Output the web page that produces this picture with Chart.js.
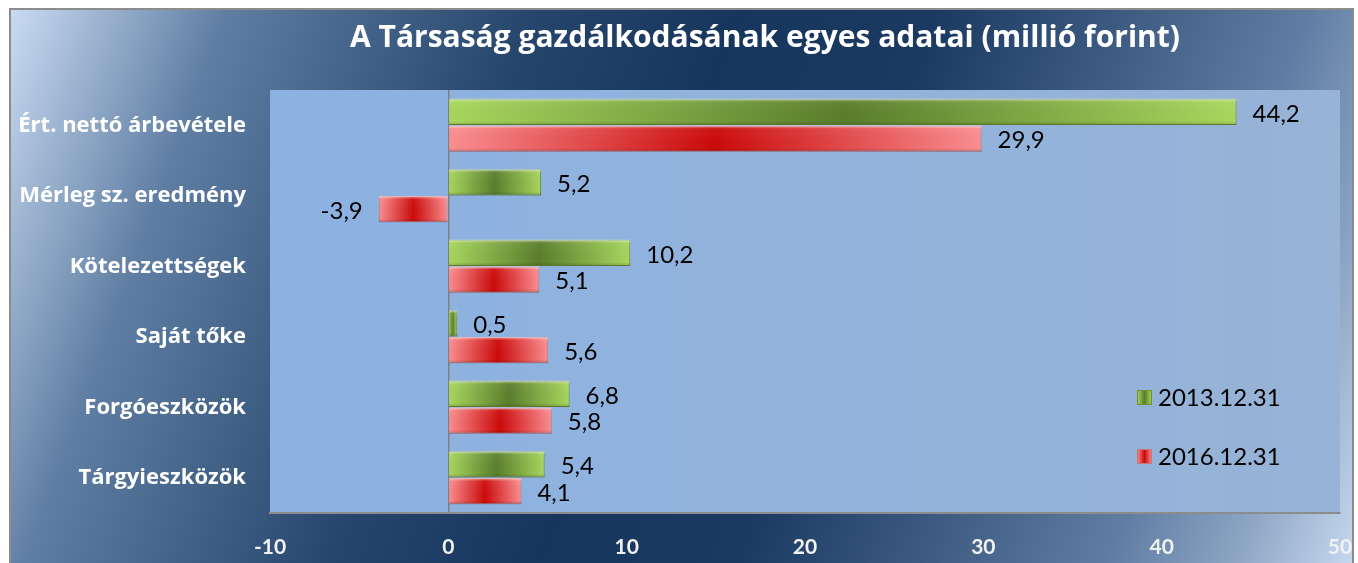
<!DOCTYPE html>
<html>
<head>
<meta charset="utf-8">
<script src="https://cdn.jsdelivr.net/npm/chart.js@4.4.1/dist/chart.umd.min.js"></script>
<style>
  html, body { margin: 0; padding: 0; background: #fff; overflow: hidden; }
  #frame {
    position: absolute; left: 9px; top: 8px; width: 1345px; height: 560px;
    border: 2px solid #8c8c8c; box-sizing: border-box;
    background: linear-gradient(110deg, #c9dbf2 0%, #5f7ea3 14%, #25456c 34%, #17365d 47%, #1b3a61 60%, #5f7ca2 84%, #8aa3c2 92%, #c6d8ef 100%);
  }
  #wrap { position: absolute; left: 0; top: 0; width: 1358px; height: 563px; }
</style>
</head>
<body>
<div id="frame"></div>
<div id="wrap"><canvas id="chart"></canvas></div>
<script>
// DATA
const chartTitle = "A Társaság gazdálkodásának egyes adatai (millió forint)";
const categories = [
    "Ért. nettó árbevétele",
    "Mérleg sz. eredmény",
    "Kötelezettségek",
    "Saját tőke",
    "Forgóeszközök",
    "Tárgyieszközök",
];
const seriesNames = ["2013.12.31", "2016.12.31"];
const values2013 = [44.2, 5.2, 10.2, 0.5, 6.8, 5.4];
const values2016 = [29.9, -3.9, 5.1, 5.6, 5.8, 4.1];
const xMin = -10;
const xMax = 50;
const xStep = 10;

// STYLE
const FONT = "Lato, 'Open Sans', sans-serif";
const BOLD_FONT = "'Open Sans', Lato, sans-serif";
const greenStops = ["#a8d85e", "#5a7e2c"];
const redStops = ["#fb8f91", "#cc0a0a"];

// HELPERS
const barGradient = (c, stops) => {
    const chart = c.chart;
    if (!chart.chartArea || c.type !== "data" || !chart.scales.x) return stops[0];
    const v = c.raw;
    const xs = chart.scales.x;
    const x0 = xs.getPixelForValue(0);
    const x1 = xs.getPixelForValue(v);
    if (Math.abs(x1 - x0) < 1) return stops[1];
    const g = chart.ctx.createLinearGradient(x0, 0, x1, 0);
    g.addColorStop(0, stops[0]);
    g.addColorStop(0.5, stops[1]);
    g.addColorStop(1, stops[0]);
    return g;
};
const fmt = (v) => v.toFixed(1).replace(".", ",");

// PLUGINS
const plotBackground = {
    id: "plotBackground",
    beforeDraw(chart) {
        const { ctx, chartArea: a } = chart;
        const g = ctx.createLinearGradient(a.left, 0, a.right, 0);
        g.addColorStop(0, "#8cb2e2");
        g.addColorStop(1, "#97b3d6");
        ctx.save();
        ctx.fillStyle = g;
        ctx.fillRect(a.left, a.top, a.right - a.left, a.bottom - a.top);
        ctx.restore();
    },
};

const titlePlugin = {
    id: "titlePlugin",
    afterDraw(chart) {
        const ctx = chart.ctx;
        ctx.save();
        ctx.font = "bold 30px " + BOLD_FONT;
        ctx.fillStyle = "#ffffff";
        ctx.textAlign = "center";
        ctx.textBaseline = "middle";
        ctx.fillText(chartTitle, 765, 38);
        ctx.restore();
    },
};

const barHighlight = {
    id: "barHighlight",
    afterDatasetsDraw(chart) {
        const ctx = chart.ctx;
        ctx.save();
        chart.data.datasets.forEach((ds, i) => {
            const meta = chart.getDatasetMeta(i);
            meta.data.forEach((bar) => {
                const left = Math.min(bar.x, bar.base);
                const w = Math.abs(bar.x - bar.base);
                const top = bar.y - bar.height / 2;
                const g = ctx.createLinearGradient(0, top, 0, top + bar.height);
                g.addColorStop(0, "rgba(255,255,255,0.55)");
                g.addColorStop(0.12, "rgba(255,255,255,0.05)");
                g.addColorStop(0.85, "rgba(0,0,0,0)");
                g.addColorStop(1, "rgba(0,0,0,0.18)");
                ctx.fillStyle = g;
                ctx.fillRect(left, top, w, bar.height);
            });
        });
        ctx.restore();
    },
};

const valueLabels = {
    id: "valueLabels",
    afterDatasetsDraw(chart) {
        const ctx = chart.ctx;
        ctx.save();
        ctx.font = "24px " + FONT;
        ctx.fillStyle = "#000000";
        ctx.textBaseline = "middle";
        chart.data.datasets.forEach((ds, i) => {
            const meta = chart.getDatasetMeta(i);
            meta.data.forEach((bar, j) => {
                const v = ds.data[j];
                if (v < 0) {
                    ctx.textAlign = "right";
                    ctx.fillText(fmt(v), bar.x - 16, bar.y + 2);
                } else {
                    ctx.textAlign = "left";
                    ctx.fillText(fmt(v), bar.x + 16, bar.y + 2);
                }
            });
        });
        ctx.restore();
    },
};

const legendBox = {
    id: "legendBox",
    afterDraw(chart) {
        const ctx = chart.ctx;
        const rows = [397, 456];
        const stops = [greenStops, redStops];
        ctx.save();
        ctx.font = "24px " + FONT;
        ctx.textBaseline = "middle";
        ctx.textAlign = "left";
        chart.data.datasets.forEach((ds, i) => {
            const y = rows[i];
            const g = ctx.createLinearGradient(1137, 0, 1152, 0);
            g.addColorStop(0, stops[i][0]);
            g.addColorStop(0.5, stops[i][1]);
            g.addColorStop(1, stops[i][0]);
            ctx.fillStyle = g;
            ctx.fillRect(1137, y - 7, 15, 15);
            ctx.strokeStyle = ds.borderColor;
            ctx.lineWidth = 1;
            ctx.strokeRect(1137.5, y - 6.5, 14, 14);
            ctx.fillStyle = "#000000";
            ctx.fillText(ds.label, 1158, y + 1);
        });
        ctx.restore();
    },
};

// CHART
const config = {
    type: "bar",
    data: {
        labels: categories,
        datasets: [
            {
                label: seriesNames[0],
                data: values2013,
                backgroundColor: (c) => barGradient(c, greenStops),
                borderColor: "#6f8f30",
                borderWidth: 1,
                categoryPercentage: 0.76,
                barPercentage: 0.98,
            },
            {
                label: seriesNames[1],
                data: values2016,
                backgroundColor: (c) => barGradient(c, redStops),
                borderColor: "#c27a7a",
                borderWidth: 1,
                categoryPercentage: 0.76,
                barPercentage: 0.98,
            },
        ],
    },
    options: {
        indexAxis: "y",
        responsive: false,
        animation: false,
        layout: { padding: { top: 90, right: 18, left: 0, bottom: 0 } },
        plugins: {
            legend: { display: false },
            title: { display: false },
            tooltip: { enabled: false },
        },
        scales: {
            x: {
                min: xMin,
                max: xMax,
                ticks: {
                    stepSize: xStep,
                    color: "#f2f2f2",
                    font: { family: FONT, size: 21, weight: "bold" },
                    padding: 22,
                    maxRotation: 0,
                },
                grid: {
                    drawTicks: false,
                    color: (c) => (c.tick && c.tick.value === 0 ? "#7f7f7f" : "rgba(0,0,0,0)"),
                    lineWidth: 1.5,
                },
                border: { display: true, color: "#8c8c8c", width: 2 },
                afterFit: (scale) => {
                    scale.height = 50;
                    scale.paddingLeft = 0;
                    scale.paddingRight = 0;
                },
            },
            y: {
                ticks: {
                    color: "#ffffff",
                    font: { family: BOLD_FONT, size: 22, weight: "bold" },
                    padding: 24,
                },
                grid: { display: false, drawTicks: false },
                border: { display: false },
                afterFit: (scale) => { scale.width = 270; },
            },
        },
    },
    plugins: [plotBackground, barHighlight, valueLabels, legendBox, titlePlugin],
};

const canvas = document.getElementById("chart");
canvas.width = 1358;
canvas.height = 563;
canvas.style.width = "1358px";
canvas.style.height = "563px";
new Chart(canvas, config);
</script>
</body>
</html>
